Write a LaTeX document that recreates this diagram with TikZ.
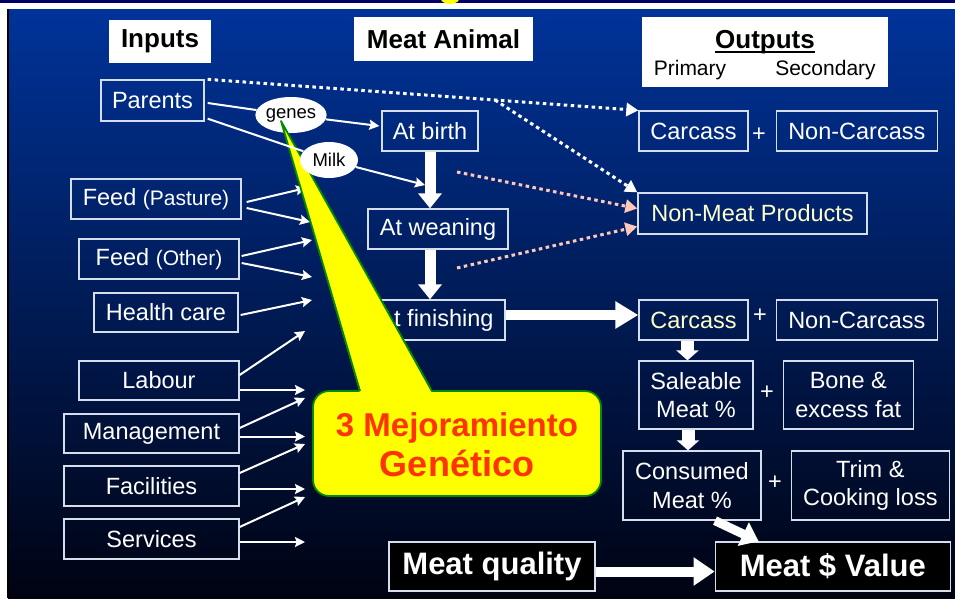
\documentclass[tikz,border=0pt]{standalone}
\usepackage{fontspec}
\setmainfont{Liberation Sans}
\usetikzlibrary{arrows.meta,positioning,calc,shapes.geometric}
\definecolor{bgtop}{RGB}{0,51,153}
\definecolor{bgmid}{RGB}{0,33,105}
\definecolor{bgbot}{RGB}{0,3,18}
\definecolor{topline}{RGB}{0,0,102}
\definecolor{boxline}{RGB}{215,222,235}
\definecolor{paleyel}{RGB}{255,255,204}
\definecolor{dotpink}{RGB}{255,200,185}
\definecolor{bubbleyel}{RGB}{255,255,0}
\definecolor{bubblegrn}{RGB}{0,140,0}
\definecolor{bubblered}{RGB}{255,51,0}
\tikzset{
    inbox/.style={
           draw=boxline, line width=1.3pt,
           text=white,
           inner sep=0pt,
           minimum height=40pt,
           font=\fontsize{23.5}{28.5}\selectfont,
           },
}
\tikzset{
    head/.style={
           fill=white,
           text=black,
           inner sep=0pt,
           font=\fontsize{26}{30}\selectfont\bfseries,
           },
    sub/.style={
           text=black,
           inner sep=0pt,
           font=\fontsize{21}{24}\selectfont,
           },
    plus/.style={
           text=white,
           inner sep=0pt,
           font=\fontsize{23.5}{28}\selectfont,
           },
    endbox/.style={
           fill=black, draw=boxline, line width=1.3pt,
           text=white,
           inner sep=0pt,
           minimum height=49pt,
           font=\fontsize{31}{36}\selectfont\bfseries,
           },
    tag/.style={
           ellipse,
           fill=white,
           text=black,
           inner sep=0pt,
           minimum width=58pt, minimum height=36pt,
           font=\fontsize{18.5}{21}\selectfont,
           },
}
\tikzset{
    wire/.style={draw=white, line width=2pt},
    feed/.style={wire, -{Stealth[length=10pt,width=10pt,inset=1.5pt]}},
    fat/.style={draw=white, line width=10pt, -{Triangle[#1]}},
    dots/.style={draw=white, line width=3pt, dash pattern=on 3.5pt off 3.5pt,
           -{Triangle[length=12pt,width=13pt]}},
    pinkdots/.style={dots, draw=dotpink},
}

\begin{document}
\begin{tikzpicture}[x=1pt,y=-1pt]
\useasboundingbox (0,0) rectangle (955,598);
% background
\fill[white] (0,0) rectangle (955,598);
\shade[top color=bgtop, middle color=bgmid, bottom color=bgbot] (8,9) rectangle (955,598);
\fill[black] (7,9) rectangle (8.5,598);
\fill[topline] (0,0) rectangle (955,2.5);
\fill[bubbleyel] (450,-3) ellipse (10pt and 7pt);

% column heads
\node[head, minimum width=102pt, minimum height=43pt] (hIn) at (160,41.5) {Inputs};
\node[head, minimum width=179pt, minimum height=44pt] (hAnimal) at (443.5,39) {Meat Animal};
\node[fill=white, inner sep=0pt, minimum width=246pt, minimum height=70pt] (hOut) at (765,52) {};
\node[head, fill=none, anchor=base] (outT) at (765,48) {Outputs};
\draw[line width=2.5pt] ($(outT.base west)+(0,4)$) -- ($(outT.base east)+(0,4)$);
\node[sub, anchor=base] (prim) at (690,75) {Primary};
\node[sub, anchor=base] (sec) at (825.5,75) {Secondary};

% inputs
\node[inbox, minimum width=103pt, minimum height=41pt] (parents) at (152.5,100.5) {Parents};
\node[inbox, minimum width=170pt] (feedP) at (156,199) {Feed {\fontsize{21}{24}\selectfont(Pasture)}};
\node[inbox, minimum width=160pt] (feedO) at (159,259) {Feed {\fontsize{21}{24}\selectfont(Other)}};
\node[inbox, minimum width=144pt, minimum height=39pt] (health) at (166,312.5) {Health care};
\node[inbox, minimum width=160pt, minimum height=39pt] (labour) at (159,380.5) {Labour};
\node[inbox, minimum width=175pt, minimum height=39pt] (manage) at (151.5,433.5) {Management};
\node[inbox, minimum width=175pt] (facil) at (151.5,486) {Facilities};
\node[inbox, minimum width=175pt] (serv) at (151.5,539) {Services};

\coordinate (t1) at (306,188);
\coordinate (t2) at (310,222);
\coordinate (t3) at (312,240);
\coordinate (t4) at (312,277);
\coordinate (t5) at (312,300);
\coordinate (t6) at (305,331);
\coordinate (t7) at (305,390);
\coordinate (t8) at (305,398);
\coordinate (t9) at (305,436.5);
\coordinate (t10) at (305,444);
\coordinate (t11) at (305,489);
\coordinate (t12) at (305,497);
\coordinate (t13) at (305,542);
\draw[feed] ($(feedP.east)+(5,3)$) -- (t1);
\draw[feed] ($(feedP.east)+(5,9)$) -- (t2);
\draw[feed] ($(feedO.east)+(2,-3)$) -- (t3);
\draw[feed] ($(feedO.east)+(2,4)$) -- (t4);
\draw[feed] ($(health.east)+(2,2.5)$) -- (t5);
\draw[feed] ($(labour.east)+(0,-5.5)$) -- (t6);
\draw[feed] ($(labour.east)+(0,9.5)$) -- (t7);
\draw[feed] ($(manage.east)+(0,-5.5)$) -- (t8);
\draw[feed] ($(manage.east)+(0,3)$) -- (t9);
\draw[feed] ($(facil.east)+(0,-13)$) -- (t10);
\draw[feed] ($(facil.east)+(0,3)$) -- (t11);
\draw[feed] ($(serv.east)+(0,-12)$) -- (t12);
\draw[feed] ($(serv.east)+(0,3)$) -- (t13);

% meat animal
\node[inbox, minimum width=96pt] (birth) at (430,131) {At birth};
\node[inbox, minimum width=140pt] (wean) at (438,229) {At weaning};
\node[inbox, minimum width=138pt] (finish) at (436,320) {At finishing};
\draw[fat={length=15pt,width=23pt}, line width=11pt] (birth.south) -- (birth |- wean.north);
\draw[fat={length=15pt,width=23pt}, line width=11pt] (birth |- wean.south) -- (birth |- finish.north);

% outputs
\node[inbox, minimum width=109pt] (carcA) at (693.5,131) {Carcass};
\node[inbox, minimum width=161pt, right=27pt of carcA] (noncarcA) {Non-Carcass};
\node[plus] (plusA) at (759,135) {+};
\node[inbox, minimum width=229pt, minimum height=41pt, text=paleyel] (nonmeat) at (752.5,213.5) {Non-Meat Products};
\node[inbox, minimum width=109pt, text=paleyel] (carcB) at (693.5,320) {Carcass};
\node[inbox, minimum width=161pt, right=27pt of carcB] (noncarcB) {Non-Carcass};
\node[plus] (plusB) at (760,316) {+};
\node[inbox, minimum width=114pt, minimum height=68pt, align=center] (sale) at (696,395) {Saleable\\Meat \%};
\node[inbox, minimum width=130pt, minimum height=68pt, align=center, right=29pt of sale] (bone) {Bone \&\\excess fat};
\node[plus] (plusC) at (767,393) {+};
\node[inbox, minimum width=138pt, minimum height=69pt, align=center] (cons) at (692,485.5) {Consumed\\Meat \%};
\node[inbox, minimum width=158pt, minimum height=69pt, align=center, right=29pt of cons] (trim) {Trim \&\\Cooking loss};
\node[plus] (plusD) at (775,483) {+};
\node[endbox, minimum width=206pt] (quality) at (492,566.5) {Meat quality};
\node[endbox, minimum width=235pt, right=119pt of quality] (value) {Meat \$ Value};

\draw[fat={length=23pt,width=26pt}] ([yshift=5pt]finish.east) -- ([yshift=5pt]carcB.west);
\draw[fat={length=10pt,width=22pt}, line width=13pt] ($(carcB.south)+(-6,0)$) -- ($(sale.north)+(-8.5,0)$);
\draw[fat={length=10pt,width=22pt}, line width=13pt] ($(sale.south)+(-8,0)$) -- ($(cons.north)+(-4,0)$);
\draw[fat={length=17pt,width=25pt}, line width=9pt] ($(cons.south)+(23,0)$) -- ($(value.north west)+(44,0)$);
\draw[fat={length=21pt,width=27pt}] ([yshift=-5pt]quality.east) -- ([yshift=-5pt]value.west);

% dotted flows
\coordinate (split) at (495,100);
\draw[dots] ($(parents.north east)+(3,0)$) -- (split) -- (carcA.north west);
\draw[dots] (split) -- (nonmeat.north west);
\coordinate (fromBirth) at (457,172);
\coordinate (fromWean) at (457,268);
\draw[pinkdots] (fromBirth) -- ($(nonmeat.west)+(0,-5)$);
\draw[pinkdots] (fromWean) -- ($(nonmeat.west)+(0,13)$);

% parents to the animal
\node[tag] (genes) at (291,115) {genes};
\draw[wire] ($(parents.east)+(3,2.5)$) -- (genes);
\draw[feed] (genes) -- ($(birth.west)+(-2,-5)$);

% callout
\draw[fill=bubbleyel, draw=bubblegrn, line width=1.8pt, rounded corners=16pt] (313,391) rectangle (601,496);
\fill[bubbleyel] (360,393) -- (281,121) -- (432,393) -- cycle;
\draw[bubblegrn, line width=1.8pt, line join=round] (360,391) -- (281,121) -- (432,391);
\node[text=bubblered, align=center, inner sep=0pt, font=\fontsize{33}{40}\selectfont\bfseries] (mejora) at (457,445) {3 Mejoramiento\\{\fontsize{36}{40}\selectfont Genético}};

\node[tag] (milk) at (329,160) {Milk};
\draw[wire] ($(parents.south east)+(3,-3)$) -- (milk);
\coordinate (milkTip) at (425,185);
\draw[feed] (milk) -- (milkTip);
\end{tikzpicture}
\end{document}
